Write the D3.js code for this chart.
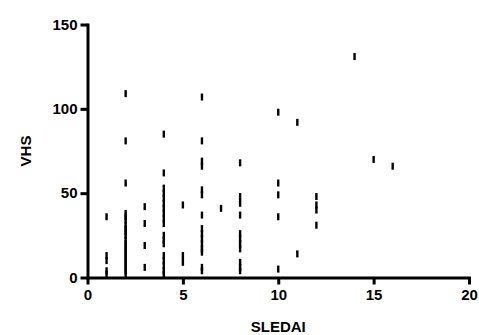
<!DOCTYPE html>
<html>
<head>
<meta charset="utf-8">
<script src="https://cdn.jsdelivr.net/npm/d3@7"></script>
<style>
	body { margin: 0; background: #fff; }
</style>
</head>
<body>
<svg id="chart" width="479" height="335"></svg>
<script>
var sledai = [
	1, 1, 1, 1, 1,
	2, 2, 2, 2, 2, 2, 2, 2, 2, 2, 2, 2, 2, 2, 2, 2, 2, 2, 2, 2, 2,
	3, 3, 3, 3,
	4, 4, 4, 4, 4, 4, 4, 4, 4, 4, 4, 4, 4, 4, 4, 4, 4, 4,
	5, 5, 5,
	6, 6, 6, 6, 6, 6, 6, 6, 6, 6, 6, 6, 6, 6, 6,
	7,
	8, 8, 8, 8, 8, 8, 8, 8, 8, 8, 8,
	10, 10, 10, 10, 10,
	11, 11,
	12, 12, 12, 12,
	14, 15, 16
];
var vhs = [
	36, 13, 10, 4, 2,
	109, 81, 56, 38, 36, 34, 31, 29, 27, 25, 22, 20, 18, 16, 14, 12, 10, 8, 6, 4, 2,
	42, 32, 19, 6,
	85, 62, 53, 50, 47, 44, 41, 38, 35, 32, 25, 22, 20, 13, 10, 7, 4, 2,
	43, 13, 9,
	107, 81, 69, 66, 52, 49, 37, 29, 26, 23, 20, 17, 15, 6, 4,
	41,
	68, 48, 44, 37, 26, 23, 20, 17, 9, 6, 4,
	98, 56, 49, 36, 5,
	92, 14,
	48, 43, 40, 31,
	131, 70, 66
];
var xTicks = [0, 5, 10, 15, 20];
var yTicks = [0, 50, 100, 150];

(function(d3) {
	'use strict';

	var svg = d3.select('#chart');
	var left = 87.5, right = 469, top = 24.5, bottom = 277.5;
	var font = '"Liberation Sans", Arial, sans-serif';

	var x = d3.scaleLinear().domain([0, 20]).range([left, right]);
	var y = d3.scaleLinear().domain([0, 150]).range([bottom, top]);

	/** axes */
	var xAxis = svg.append('g').attr('class', 'x-axis')
		.attr('transform', 'translate(0,' + bottom + ')')
		.call(d3.axisBottom(x).tickValues(xTicks).tickSize(7).tickPadding(5).tickSizeOuter(0));
	var yAxis = svg.append('g').attr('class', 'y-axis')
		.attr('transform', 'translate(' + left + ',0)')
		.call(d3.axisLeft(y).tickValues(yTicks).tickSize(7).tickPadding(3).tickSizeOuter(0));

	[xAxis, yAxis].forEach(function(axis) {
		axis.attr('font-size', 15).attr('font-family', font).attr('font-weight', 'bold');
		axis.select('.domain').attr('stroke', '#000').attr('stroke-width', 3).attr('stroke-linecap', 'square');
		axis.selectAll('.tick line').attr('stroke', '#000').attr('stroke-width', 3);
		axis.selectAll('.tick text').attr('fill', '#000');
	});

	/** points, drawn as short vertical dashes */
	var points = d3.range(sledai.length).map(function(i) {
		return { x: sledai[i], y: vhs[i] };
	});
	svg.append('g').attr('class', 'points').selectAll('rect').data(points)
		.enter().append('rect')
		.attr('x', function(d) { return x(d.x) - 1.2; })
		.attr('y', function(d) { return y(d.y) - 3.5; })
		.attr('width', 2.4)
		.attr('height', 7)
		.attr('fill', '#000');

	/** titles */
	var titles = svg.append('g')
		.attr('font-family', font).attr('font-weight', 'bold').attr('font-size', 15);
	titles.append('text')
		.attr('x', (left + right) / 2).attr('y', 332)
		.attr('text-anchor', 'middle')
		.text('SLEDAI');
	titles.append('text')
		.attr('transform', 'translate(31,' + ((top + bottom) / 2) + ') rotate(-90)')
		.attr('text-anchor', 'middle')
		.text('VHS');
})(d3);
</script>
</body>
</html>
